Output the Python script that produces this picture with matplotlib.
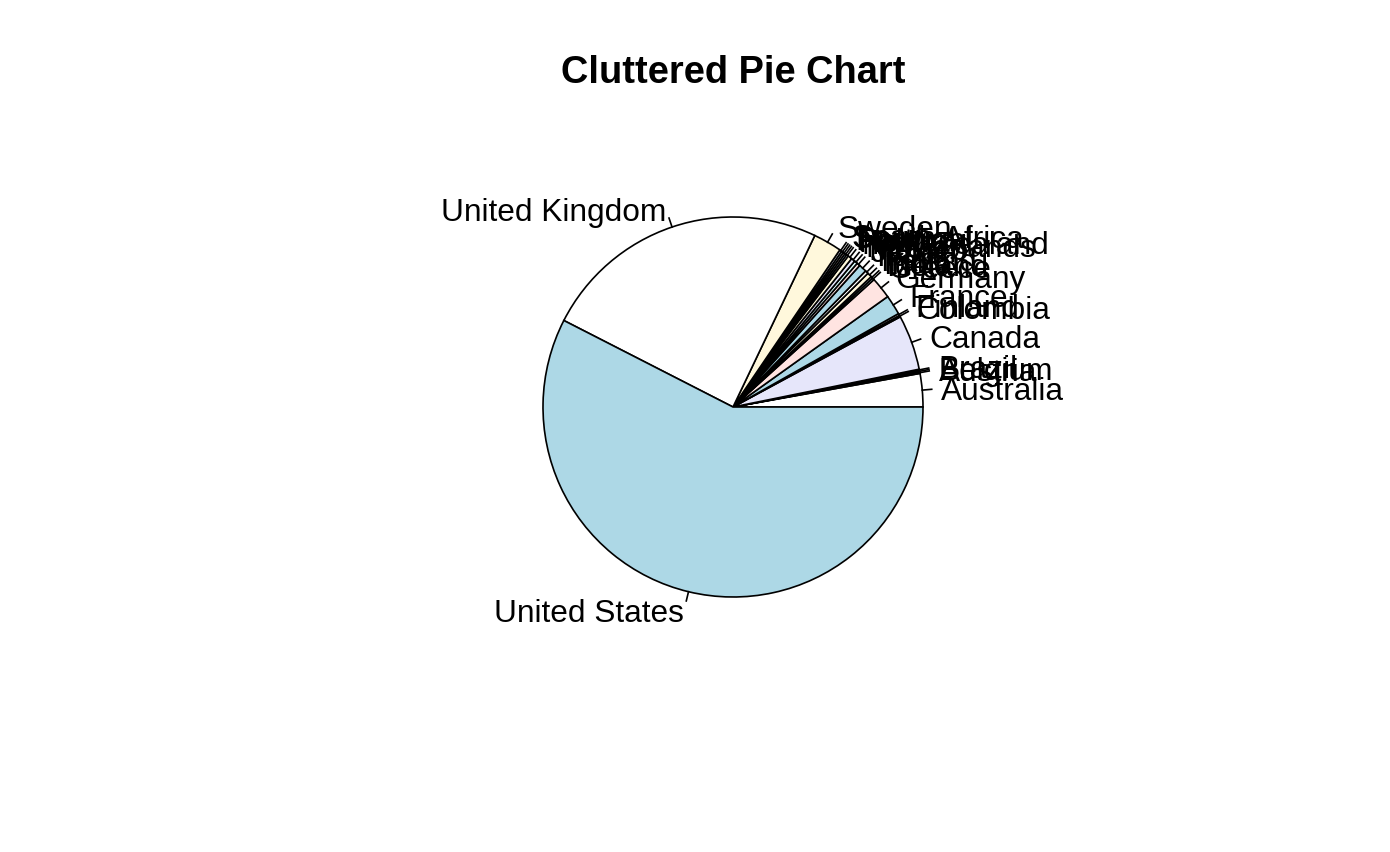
import numpy as np
import matplotlib
matplotlib.use("Agg")
import matplotlib.pyplot as plt

# countries in alphabetical order, shares (percent)
countries = ["Australia", "Austria", "Belgium", "Brazil", "Canada", "Colombia",
             "Finland", "France", "Germany", "Greece", "Iceland", "India",
             "Ireland", "Italy", "Japan", "Mexico", "Netherlands", "New Zealand",
             "Norway", "Poland", "Portugal", "South Africa", "Spain", "Sweden",
             "United Kingdom", "United States"]
shares = [2.83, 0.12, 0.12, 0.12, 4.68, 0.14,
          0.17, 1.69, 1.83, 0.17, 0.17, 0.39,
          0.28, 0.67, 0.28, 0.28, 0.33, 0.36,
          0.17, 0.17, 0.17, 0.17, 0.19, 2.42,
          24.56, 57.53]

# R's default pie palette
palette = ["white", "#ADD8E6", "#FFE4E1", "#E0FFFF", "#E6E6FA", "#FFF8DC"]
colors = [palette[i % 6] for i in range(len(countries))]

plt.rcParams['font.family'] = ['Liberation Sans', 'DejaVu Sans']

W, H = 1390, 852
fig = plt.figure(figsize=(W / 100, H / 100), dpi=100)
ax = fig.add_axes([0, 0, 1, 1])

# pie centre and radius in pixels
cx, cy, r = 733, 407, 190

wedges, texts = ax.pie(shares, labels=countries, colors=colors, startangle=0,
                       counterclock=True, radius=1, labeldistance=1.1,
                       wedgeprops=dict(edgecolor="black", linewidth=1.2),
                       textprops=dict(fontsize=22.8, color="black"))

# R centres on the capitals, nudge the labels down a bit
for t in texts:
    x, y = t.get_position()
    t.set_position((x, y - 4 / r))

# small tick lines like R's pie()
for w in wedges:
    mid = np.deg2rad((w.theta1 + w.theta2) / 2)
    ax.plot([np.cos(mid), 1.05 * np.cos(mid)], [np.sin(mid), 1.05 * np.sin(mid)],
            color="black", lw=1.2)

ax.set_xlim(-cx / r, (W - cx) / r)
ax.set_ylim(-(H - cy) / r, cy / r)
ax.set_aspect("equal")
ax.axis("off")

fig.text(733 / W, 1 - 73 / H, "Cluttered Pie Chart", ha="center", va="center",
         fontsize=27.4, fontweight="bold")

fig.savefig("out.png", dpi=100)
